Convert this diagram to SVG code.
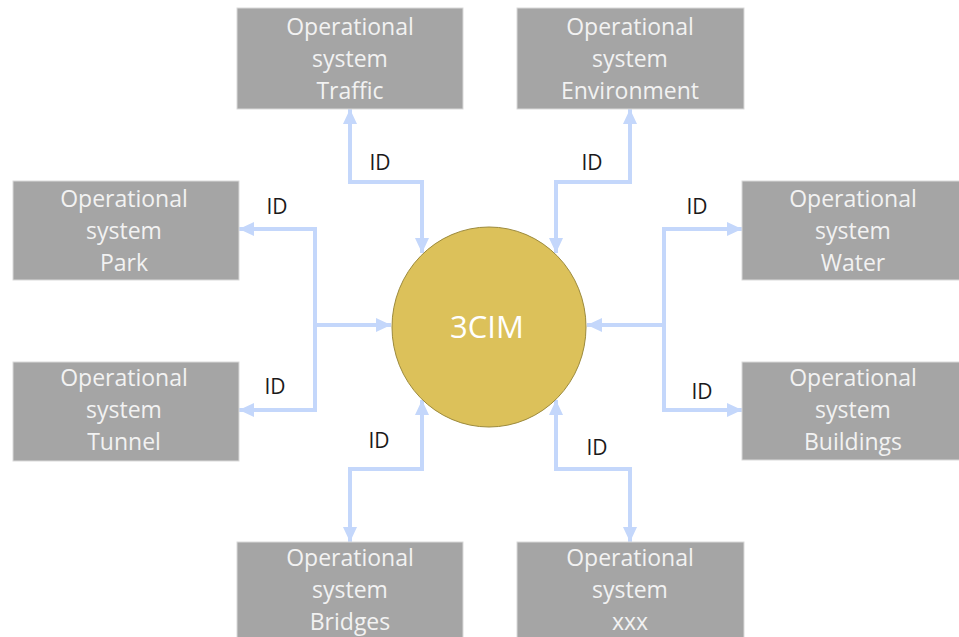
<svg xmlns="http://www.w3.org/2000/svg" width="959" height="637" viewBox="0 0 959 637">
<style>
.box{fill:#A5A5A5;stroke:#D9D9D9;stroke-width:1}
.bt{font-family:"Open Sans","Noto Sans",sans-serif;font-size:23px;fill:#F2F2F2;text-anchor:middle}
.lbl{font-family:"Open Sans","Noto Sans",sans-serif;font-size:21px;fill:#1A1A1A;text-anchor:middle}
.c{fill:none;stroke:#C4D7FB;stroke-width:4}
</style>
<defs>
<marker id="ah" markerUnits="userSpaceOnUse" markerWidth="16" markerHeight="14" refX="15" refY="7" orient="auto-start-reverse">
<path d="M0,0 L15,7 L0,14 z" fill="#C4D7FB"/>
</marker>
</defs>
<rect width="959" height="637" fill="#FFFFFF"/>
<g id="connectors">
<path class="c" d="M350,109 L350,182 L422,182 L422,253" marker-start="url(#ah)" marker-end="url(#ah)"/>
<path class="c" d="M630,109 L630,182 L556,182 L556,253" marker-start="url(#ah)" marker-end="url(#ah)"/>
<path class="c" d="M350,542 L350,469 L422,469 L422,400" marker-start="url(#ah)" marker-end="url(#ah)"/>
<path class="c" d="M630,542 L630,469 L556,469 L556,400" marker-start="url(#ah)" marker-end="url(#ah)"/>
<path class="c" d="M315,325 L315,229 L239,229" marker-end="url(#ah)"/>
<path class="c" d="M315,325 L315,410 L239,410" marker-end="url(#ah)"/>
<path class="c" d="M313,325 L391,325" marker-end="url(#ah)"/>
<path class="c" d="M664,325 L664,229 L742,229" marker-end="url(#ah)"/>
<path class="c" d="M664,325 L664,410 L742,410" marker-end="url(#ah)"/>
<path class="c" d="M666,325 L587,325" marker-end="url(#ah)"/>
<text class="lbl" x="380" y="170">ID</text>
<text class="lbl" x="592" y="170">ID</text>
<text class="lbl" x="277" y="214">ID</text>
<text class="lbl" x="275" y="394">ID</text>
<text class="lbl" x="697" y="214">ID</text>
<text class="lbl" x="702" y="399">ID</text>
<text class="lbl" x="379" y="448">ID</text>
<text class="lbl" x="597" y="455">ID</text>
</g>
<g id="n-3cim">
<ellipse cx="489" cy="327" rx="97" ry="100" fill="#DCC15A" stroke="#9C8A3C" stroke-width="1"/>
<text x="487" y="338" font-family="Open Sans, Noto Sans, sans-serif" font-size="31" fill="#FFFFFF" text-anchor="middle">3CIM</text>
</g>
<g id="n-traffic">
<rect class="box" x="237" y="8" width="226" height="101"/>
<text class="bt" x="350" y="35">Operational</text><text class="bt" x="350" y="67">system</text><text class="bt" x="350" y="99">Traffic</text>
</g>
<g id="n-environment">
<rect class="box" x="517" y="8" width="227" height="101"/>
<text class="bt" x="630" y="35">Operational</text><text class="bt" x="630" y="67">system</text><text class="bt" x="630" y="99">Environment</text>
</g>
<g id="n-park">
<rect class="box" x="13" y="181" width="226" height="99"/>
<text class="bt" x="124" y="207">Operational</text><text class="bt" x="124" y="239">system</text><text class="bt" x="124" y="271">Park</text>
</g>
<g id="n-water">
<rect class="box" x="742" y="181" width="220" height="99"/>
<text class="bt" x="853" y="207">Operational</text><text class="bt" x="853" y="239">system</text><text class="bt" x="853" y="271">Water</text>
</g>
<g id="n-tunnel">
<rect class="box" x="13" y="362" width="226" height="99"/>
<text class="bt" x="124" y="386">Operational</text><text class="bt" x="124" y="418">system</text><text class="bt" x="124" y="450">Tunnel</text>
</g>
<g id="n-buildings">
<rect class="box" x="742" y="362" width="220" height="98"/>
<text class="bt" x="853" y="386">Operational</text><text class="bt" x="853" y="418">system</text><text class="bt" x="853" y="450">Buildings</text>
</g>
<g id="n-bridges">
<rect class="box" x="237" y="542" width="226" height="100"/>
<text class="bt" x="350" y="566">Operational</text><text class="bt" x="350" y="598">system</text><text class="bt" x="350" y="630">Bridges</text>
</g>
<g id="n-xxx">
<rect class="box" x="517" y="542" width="227" height="100"/>
<text class="bt" x="630" y="566">Operational</text><text class="bt" x="630" y="598">system</text><text class="bt" x="630" y="630">xxx</text>
</g>
</svg>
